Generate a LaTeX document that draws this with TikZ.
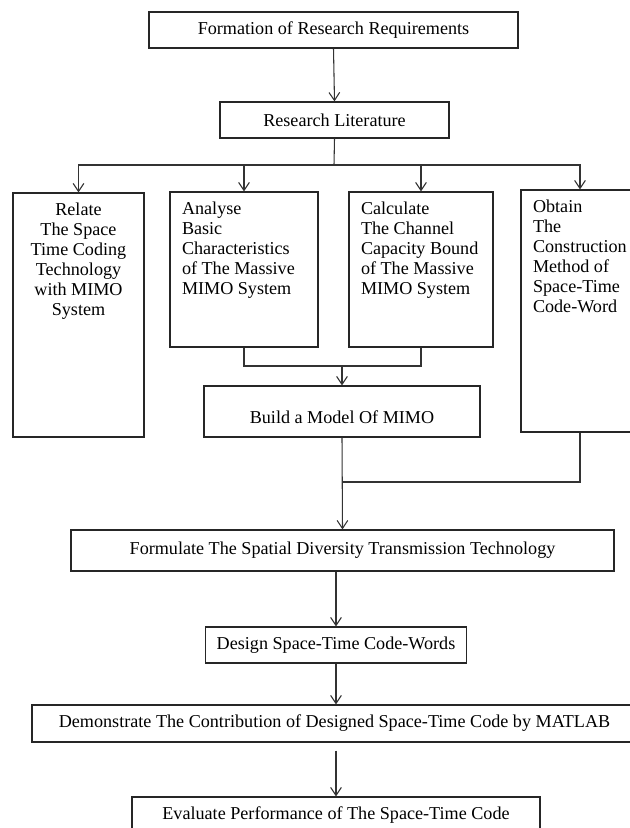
\documentclass[tikz,border=0pt]{standalone}
\usepackage{fontspec}
\setmainfont{Liberation Serif}
\usepackage{tikz}
\usetikzlibrary{arrows.meta}

\newdimen\px \px=0.75pt
% Text blocks for the tall boxes, set from the top.
\newcommand{\lefttext}[3]{\parbox[c][#2][t]{#1}{\vspace*{10\px}\raggedright\leftskip=12\px #3}}
\newcommand{\midtext}[3]{\parbox[c][#2][t]{#1}{\vspace*{10\px}\centering #3}}
\newcommand{\lowtext}[3]{\parbox[c][#2][b]{#1}{\centering #3\par\vspace{13\px}}}

\tikzset{
    stage/.style={draw=black!85, line width=0.9pt, inner sep=0pt, font=\fontsize{13.6}{15}\selectfont},
    flow/.style={draw=black!80, line width=0.8pt},
    arr/.style={flow, -{Straight Barb[length=6pt, width=8pt]}}
}

\begin{document}
\begin{tikzpicture}[x=0.75pt, y=-0.75pt]
        \useasboundingbox (0,0) rectangle (630,828);
        \clip (0,0) rectangle (630,828);

        % Top of the flow.
        \node[stage, minimum width=369\px, minimum height=36\px] (require) at (333.5,30) {Formation of Research Requirements};
        \node[stage, minimum width=229\px, minimum height=36\px] (literature) at (334.5,120) {Research Literature};

        % Four parallel tasks.
        \node[stage] (relate) at (78.5,315) {\midtext{131\px}{244\px}{Relate\\The Space\\Time Coding\\Technology\\with MIMO\\System}};
        \node[stage] (analyse) at (244,269.5) {\lefttext{148\px}{155\px}{Analyse\\Basic\\Characteristics\\of The Massive\\MIMO System}};
        \node[stage] (calculate) at (421,269.5) {\lefttext{144\px}{155\px}{Calculate\\The Channel\\Capacity Bound\\of The Massive\\MIMO System}};
        \node[stage] (obtain) at (580,311) {\lefttext{118\px}{242\px}{Obtain\\The\\Construction\\Method of\\Space-Time\\Code-Word}};
        \node[stage] (build) at (342,411.5) {\lowtext{276\px}{51\px}{Build a Model Of MIMO}};

        % Bottom of the flow.
        \node[stage, minimum width=543\px, minimum height=41\px] (formulate) at (342.5,550.5) {Formulate The Spatial Diversity Transmission Technology};
        \node[stage, minimum width=261\px, minimum height=36\px] (design) at (336,645) {Design Space-Time Code-Words};
        \node[stage, minimum width=605\px, minimum height=37\px] (demonstrate) at (334.5,723.5) {Demonstrate The Contribution of Designed Space-Time Code by MATLAB};
        \node[stage, minimum width=408\px, minimum height=36\px] (evaluate) at (336,815) {Evaluate Performance of The Space-Time Code};

        % Junction points.
        \coordinate (split) at (334,165);
        \coordinate (merge) at (342,366);
        \coordinate (meet) at (342,482);

        % Connectors.
        \draw[arr] (require.south) -- (literature.north);
        \draw[flow] (literature.south) -- (split);
        \draw[arr] (split) -| (relate.north);
        \draw[arr] (split) -| (analyse.north);
        \draw[arr] (split) -| (calculate.north);
        \draw[arr] (split) -| (obtain.north);
        \draw[flow] (analyse.south) |- (merge) -| (calculate.south);
        \draw[arr] (merge) -- (build.north);
        \draw[flow] (obtain.south) |- (meet);
        \draw[arr] (build.south) -- (formulate.north);
        \draw[arr] (formulate.south -| design.north) -- (design.north);
        \draw[arr] (design.south) -- (design.south |- demonstrate.north);
        \draw[arr, shorten <=6pt] (demonstrate.south -| evaluate.north) -- (evaluate.north);
    \end{tikzpicture}
\end{document}
